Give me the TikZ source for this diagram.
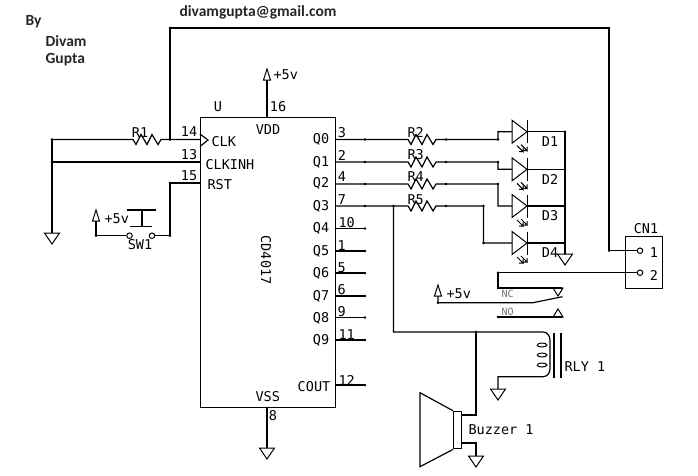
\documentclass[tikz,border=0pt]{standalone}
\usepackage{fontspec}
\setmainfont{DejaVu Sans Mono}
\newfontfamily\notefont{Carlito}
\usetikzlibrary{shapes.geometric}
\tikzset{
	wire/.style={line width=1.2pt},
	jn/.style={circle, fill=black, inner sep=0pt, minimum size=2.6pt},
	lbl/.style={inner sep=0pt, font=\fontsize{13.5}{13.5}\selectfont},
	note/.style={inner sep=0pt, font=\notefont\bfseries\fontsize{15.5}{16}\selectfont, text=black!85},
	contact/.style={inner sep=0pt, text=black!55, font=\fontsize{10}{10}\selectfont},
	term/.style={circle, draw, fill=white, inner sep=0pt, minimum size=5.5pt, line width=1pt},
	pics/gnd/.style={code={\draw[line width=1pt] (-7.5,0) -- (7.5,0) -- (0,11) -- cycle;}},
	pics/vcc/.style={code={\draw[line width=1pt] (-3.5,0) -- (3.5,0) -- (0,-11) -- cycle;}},
	pics/led/.style={code={
		\draw[line width=1pt] (0,-11.5) -- (15,0) -- (0,11.5) -- cycle;
		\draw[line width=1pt] (15,-11.5) -- (15,11.5);
		\draw[line width=1pt] (5,14) -- (11,20) -- (11,16) (11,20) -- (7,20);
		\draw[line width=1pt] (9,13) -- (15,19) -- (15,15) (15,19) -- (11,19);
	}},
}
\begin{document}
\begin{tikzpicture}[x=1pt, y=-1pt, wire]
	\useasboundingbox (0,0) rectangle (698,475);
	\node[draw, wire, anchor=north west, minimum width=134.5pt, minimum height=290pt, inner sep=0pt] (cd4017) at (200,117) {};
	\draw[wire] (cd4017.north west) ++(0,17) -- ++(8,6) -- ++(-8,6.5);

	% left side of the chip
	\node[jn] (railtop) at (52,139.5) {};
	\node[jn] (railmid) at (52,162) {};
	\node[jn] (clkin) at (170,139.5) {};
	\node[jn] (mailtop) at (170,28) {};
	\coordinate (clkpin) at (200,139.5);
	\coordinate (inhpin) at (200,162);
	\coordinate (rstpin) at (200,183);
	\node[jn] (rstbend) at (170,183) {};
	\node[jn] (swright) at (170,235.7) {};
	\node[jn] (swleft) at (96,235.7) {};
	\coordinate (railgnd) at (52,233);
	\coordinate (swvcc) at (96,221);
	\node[term] (swa) at (129.5,235.7) {};
	\node[term] (swb) at (152,235.7) {};
	\coordinate (rastart) at (133,139.5);
	\coordinate (raend) at (163,139.5);
	\draw (railtop.center) -- (rastart) -- ++(3,5) -- ++(5,-10) -- ++(6,10) -- ++(5,-10) -- ++(6,10) -- ++(3,-5) -- (raend) -- (clkpin);
	\draw (railtop.center) -- (railgnd);
	\draw (railmid.center) -- (inhpin);
	\draw (rstpin) -- (rstbend.center) -- (swright.center) -- (swb);
	\draw (swa) -- (swleft.center) -- (swvcc);
	\draw (127,210) -- (156,210) (142,210) -- (142,226.7) (130,226.7) -- (152,226.7);
	\pic at (railgnd) {gnd};
	\pic at (swvcc) {vcc};

	% top and bottom pins
	\coordinate (vddpin) at (267,117);
	\coordinate (vddtop) at (267,80);
	\coordinate (vsspin) at (267,407);
	\coordinate (vssgnd) at (267,448);
	\draw (vddpin) -- (vddtop);
	\draw (vsspin) -- (vssgnd);
	\pic at (vddtop) {vcc};
	\pic at (vssgnd) {gnd};

	% spare outputs
	\node[jn] (q4end) at (365,228.5) {};
	\node[jn] (q5end) at (365,251) {};
	\node[jn] (q6end) at (365,273) {};
	\node[jn] (q7end) at (365,296) {};
	\node[jn] (q8end) at (365,317.5) {};
	\node[jn] (q9end) at (365,340) {};
	\node[jn] (coutend) at (365,385) {};
	\draw (q4end.center) -- (q4end -| cd4017.east);
	\draw (q5end.center) -- (q5end -| cd4017.east);
	\draw (q6end.center) -- (q6end -| cd4017.east);
	\draw (q7end.center) -- (q7end -| cd4017.east);
	\draw (q8end.center) -- (q8end -| cd4017.east);
	\draw (q9end.center) -- (q9end -| cd4017.east);
	\draw (coutend.center) -- (coutend -| cd4017.east);

	% outputs to the leds
	\node[jn] (q0a) at (365,139.5) {};
	\node[jn] (q1a) at (365,162) {};
	\node[jn] (q2a) at (365,184) {};
	\node[jn] (q3a) at (365,206) {};
	\node[jn] (q0b) at (446,139.5) {};
	\node[jn] (q1b) at (446,162) {};
	\node[jn] (q2b) at (446,184) {};
	\node[jn] (q3b) at (446,206) {};
	\coordinate (d1in) at (512,131.7);
	\coordinate (d2in) at (512,169.3);
	\coordinate (d3in) at (512,206);
	\coordinate (d4in) at (512,243);
	\node[jn] (d1out) at (565,131.7) {};
	\node[jn] (d2out) at (565,169.3) {};
	\node[jn] (d3out) at (565,206) {};
	\coordinate (d4out) at (565,243);
	\coordinate (ledgnd) at (565,254);
	\node[jn] (d1bend) at (498,139.5) {};
	\node[jn] (d2bend) at (498,162) {};
	\node[jn] (d3bend) at (498,184) {};
	\node[jn] (d4bend) at (483.5,206) {};
	\node[jn] (d4low) at (483.5,243) {};
	\node[jn] (tap) at (393.5,206) {};
	\draw (q0a -| cd4017.east) -- (q0a.center) -- ++(43,0) -- ++(3,5) -- ++(5,-10) -- ++(6,10) -- ++(5,-10) -- ++(6,10) -- ++(3,-5) -- (q0b.center) -- (d1bend.center) |- (d1in);
	\draw (q1a -| cd4017.east) -- (q1a.center) -- ++(43,0) -- ++(3,5) -- ++(5,-10) -- ++(6,10) -- ++(5,-10) -- ++(6,10) -- ++(3,-5) -- (q1b.center) -- (d2bend.center) |- (d2in);
	\draw (q2a -| cd4017.east) -- (q2a.center) -- ++(43,0) -- ++(3,5) -- ++(5,-10) -- ++(6,10) -- ++(5,-10) -- ++(6,10) -- ++(3,-5) -- (q2b.center) -- (d3bend.center) |- (d3in);
	\draw (q3a -| cd4017.east) -- (q3a.center) -- (tap.center) -- ++(14.5,0) -- ++(3,5) -- ++(5,-10) -- ++(6,10) -- ++(5,-10) -- ++(6,10) -- ++(3,-5) -- (q3b.center) -- (d4bend.center) -- (d4low.center) -- (d4in);
	\draw (d1out.center) -- (ledgnd);
	\draw (d1in) ++(15,0) -- (d1out.center);
	\draw (d2in) ++(15,0) -- (d2out.center);
	\draw (d3in) ++(15,0) -- (d3out.center);
	\draw (d4in) ++(15,0) -- (d4out);
	\pic at (d1in) {led};
	\pic at (d2in) {led};
	\pic at (d3in) {led};
	\pic at (d4in) {led};
	\pic at (ledgnd) {gnd};

	% connector
	\node[draw, wire, anchor=north west, minimum width=37pt, minimum height=52pt, inner sep=0pt] (cn1) at (625,236) {};
	\node[term] (cna) at (640,250.7) {};
	\node[term] (cnb) at (640,272.7) {};
	\node[jn] (cnbend) at (609,250.7) {};
	\node[jn] (nctop) at (498,272.7) {};
	\coordinate (ncleft) at (498,288);
	\draw (clkin.center) -- (mailtop.center) -| (cnbend.center) -- (cna);
	\draw (cnb) -- (nctop.center) -- (ncleft) -- (562,288);

	% relay contacts
	\node[jn] (comleft) at (438,302.7) {};
	\coordinate (comvcc) at (438,296);
	\coordinate (compivot) at (533,302.7);
	\coordinate (comtip) at (562.5,296.7);
	\node[jn] (noleft) at (498,317) {};
	\coordinate (noright) at (562,317);
	\draw (comvcc) -- (comleft.center) -- (compivot) -- (comtip);
	\draw (noleft.center) -- (noright);
	\draw[line width=1pt] (553,288) -- (563,288) -- (558,296) -- cycle;
	\draw[line width=1pt] (553,317) -- (563,317) -- (558,309) -- cycle;
	\pic at (comvcc) {vcc};

	% relay coil
	\node[jn] (coiltee) at (476,332) {};
	\coordinate (tapbend) at (393.5,332);
	\coordinate (coiltop) at (543,332);
	\coordinate (coilbot) at (543,376.7);
	\coordinate (relgnd) at (498,389);
	\draw (tap.center) -- (tapbend) -- (coiltop) to[out=0, in=90] (550,340) -- (550,369) to[out=-90, in=0] (coilbot) -| (relgnd);
	\draw[line width=1pt] (542,345) ellipse (4.8pt and 2pt);
	\draw[line width=1pt] (542,355) ellipse (4.8pt and 2pt);
	\draw[line width=1pt] (542,365) ellipse (4.8pt and 2pt);
	\draw (554,333) -- (554,377.6);
	\draw (561,333) -- (561,377.6);
	\pic at (relgnd) {gnd};

	% buzzer
	\node[draw, wire, anchor=north west, minimum width=8pt, minimum height=37.5pt, inner sep=0pt] (buzz) at (453,410.7) {};
	\coordinate (buzzup) at (476,415);
	\coordinate (buzzlow) at (476,443);
	\coordinate (buzzgnd) at (476,456);
	\draw (buzz.north west) -- (420,392.7) -- (420,466.7) -- (buzz.south west);
	\draw (coiltee.center) -- (buzzup) -- (buzzup -| buzz.east);
	\draw (buzzlow -| buzz.east) -- (buzzlow) -- (buzzgnd);
	\pic at (buzzgnd) {gnd};

	% labels
	\node[note] (mail) at (258,12) {divamgupta@gmail.com};
	\node[note, anchor=west] (by) at (25,22) {By};
	\node[note, anchor=west] (divam) at (45,41) {Divam};
	\node[note, anchor=west] (gupta) at (45,60) {Gupta};
	\node[lbl, anchor=west] (vcctop) at (273,75) {+5v};
	\node[lbl, anchor=west] (vccsw) at (104,219) {+5v};
	\node[lbl, anchor=west] (vccrel) at (446,294) {+5v};
	\node[lbl] (ulbl) at (218,107) {U};
	\node[lbl] (p16) at (278,107) {16};
	\node[lbl] (vdd) at (268,130) {VDD};
	\node[lbl] (vss) at (267.7,396.7) {VSS};
	\node[lbl] (p8) at (273,416) {8};
	\node[lbl, rotate=-90] (part) at (266,260) {CD4017};
	\node[lbl] (r1) at (140,132.5) {R1};
	\node[lbl] (p14) at (189,132) {14};
	\node[lbl] (p13) at (189,155) {13};
	\node[lbl] (p15) at (189,176) {15};
	\node[lbl, anchor=west] (clk) at (211,142) {CLK};
	\node[lbl, anchor=west] (clkinh) at (205,165) {CLKINH};
	\node[lbl, anchor=west] (rst) at (207,185) {RST};
	\node[lbl] (sw1) at (140,245) {SW1};
	\node[lbl] (q0) at (321,139) {Q0};
	\node[lbl] (q1) at (321,162) {Q1};
	\node[lbl] (q2) at (321,183) {Q2};
	\node[lbl] (q3) at (321,206) {Q3};
	\node[lbl] (q4) at (321,228) {Q4};
	\node[lbl] (q5) at (321,251) {Q5};
	\node[lbl] (q6) at (321,273) {Q6};
	\node[lbl] (q7) at (321,296) {Q7};
	\node[lbl] (q8) at (321,318) {Q8};
	\node[lbl] (q9) at (321,340) {Q9};
	\node[lbl] (cout) at (314,387) {COUT};
	\node[lbl] (p3) at (342,133) {3};
	\node[lbl] (p2) at (342,155) {2};
	\node[lbl] (p4) at (342,177) {4};
	\node[lbl] (p7) at (342,200) {7};
	\node[lbl] (p10) at (346.7,223) {10};
	\node[lbl] (p1) at (341.7,246) {1};
	\node[lbl] (p5) at (341.7,268) {5};
	\node[lbl] (p6) at (341.7,290) {6};
	\node[lbl] (p9) at (341.7,312) {9};
	\node[lbl] (p11) at (346.7,335) {11};
	\node[lbl] (p12) at (346.7,380) {12};
	\node[lbl] (r2) at (415.7,132.7) {R2};
	\node[lbl] (r3) at (415.7,155) {R3};
	\node[lbl] (r4) at (415.7,177) {R4};
	\node[lbl] (r5) at (415.7,200) {R5};
	\node[lbl] (d1) at (550,141.7) {D1};
	\node[lbl] (d2) at (550,179) {D2};
	\node[lbl] (d3) at (550,216) {D3};
	\node[lbl] (d4) at (550,253) {D4};
	\node[lbl] (cnlbl) at (646,229) {CN1};
	\node[lbl] (cn1a) at (654,253) {1};
	\node[lbl] (cn1b) at (654,275) {2};
	\node[contact, anchor=west] (nc) at (501,294) {NC};
	\node[contact, anchor=west] (no) at (501,312) {NO};
	\node[lbl, anchor=west] (rly) at (564,367) {RLY 1};
	\node[lbl, anchor=west] (buzzer) at (468,430) {Buzzer 1};
\end{tikzpicture}
\end{document}
